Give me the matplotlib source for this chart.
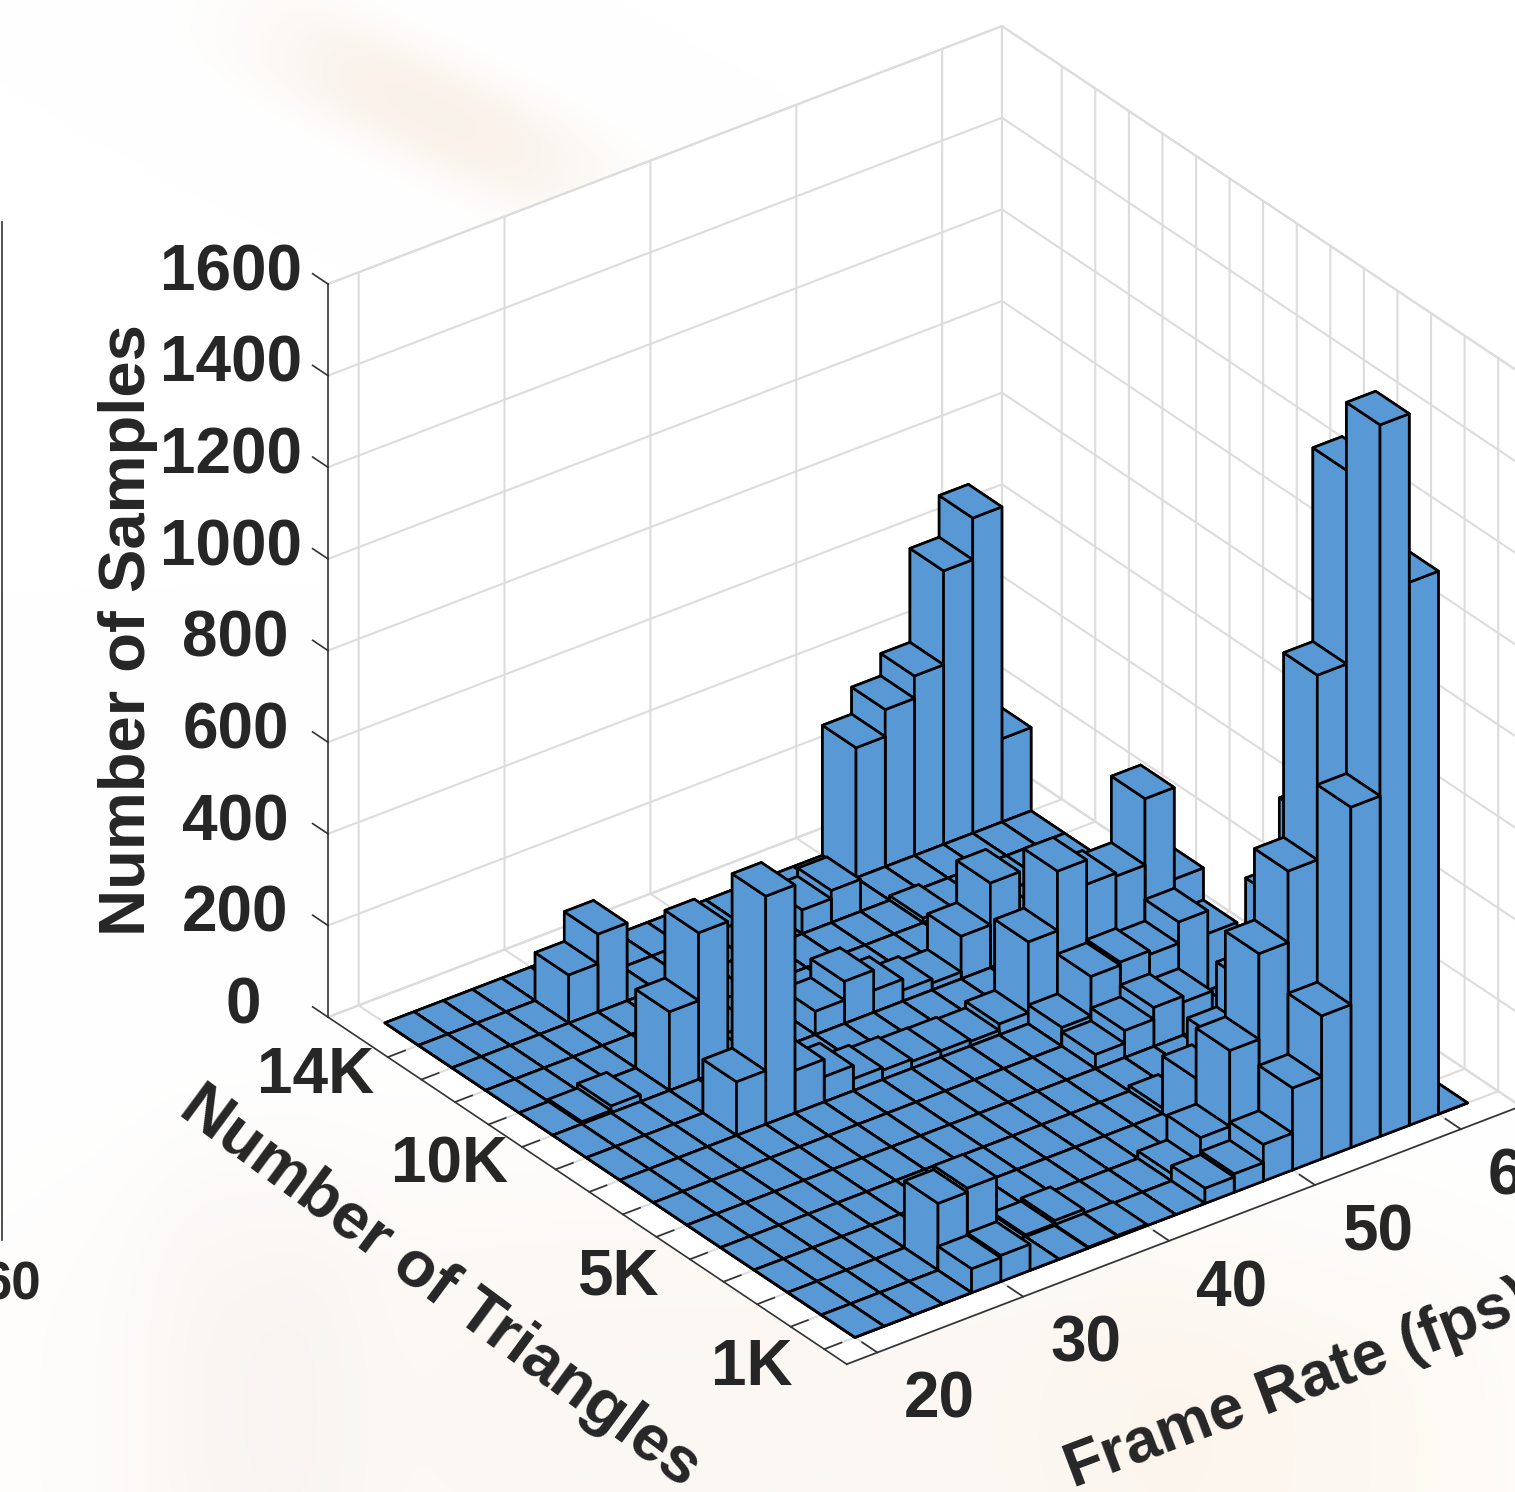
import numpy as np
import matplotlib
matplotlib.use("Agg")
import matplotlib.pyplot as plt
from matplotlib.transforms import ScaledTranslation, IdentityTransform

plt.rcParams['font.family'] = ['Liberation Sans', 'DejaVu Sans']
plt.rcParams['font.weight'] = 'bold'

fps_edges = list(range(20, 62, 2))
tri_edges = list(range(1, 15))

# samples per bin, one list per triangle count (1K .. 14K), frame rate 20 .. 60
row_1k = [0, 0, 0, 0, 52, 57, 0, 0, 2, 3, 0, 0, 33, 40, 80, 179, 312, 743, 1553, 1185, 0]
row_2k = [0, 0, 0, 0, 146, 155, 0, 4, 11, 0, 0, 0, 16, 70, 236, 423, 579, 982, 1405, 0, 0]
row_3k = [0, 0, 0, 0, 0, 0, 0, 0, 0, 0, 0, 0, 0, 0, 126, 0, 0, 0, 592, 0, 0]
row_4k = [0, 0, 0, 0, 0, 0, 0, 0, 0, 0, 0, 0, 0, 0, 12, 0, 111, 209, 368, 0, 0]
row_5k = [0] * 21
row_6k = [0, 0, 0, 0, 0, 0, 0, 0, 0, 0, 0, 0, 0, 0, 31, 59, 85, 72, 0, 0, 0]
row_7k = [0, 0, 0, 0, 0, 0, 0, 0, 0, 0, 0, 0, 0, 0, 41, 128, 135, 127, 174, 124, 0]
row_8k = [0, 0, 0, 0, 117, 498, 93, 55, 26, 20, 15, 14, 10, 24, 179, 309, 256, 249, 394, 194, 0]
row_9k = [0] * 21
row_10k = [0, 5, 15, 0, 172, 320, 0, 0, 0, 51, 92, 48, 24, 15, 93, 185, 0, 0, 0, 0, 0]
row_11k = [0] * 21
row_12k = [0, 0, 0, 0, 0, 0, 0, 0, 0, 0, 0, 0, 0, 0, 0, 10, 0, 0, 0, 0, 0]
row_13k = [0, 0, 0, 0, 105, 170, 0, 0, 0, 0, 0, 0, 52, 70, 0, 0, 0, 0, 0, 0, 0]
row_14k = [0, 0, 0, 0, 0, 0, 0, 0, 0, 0, 0, 0, 0, 0, 0, 284, 343, 392, 597, 688, 182]
rows = [row_1k, row_2k, row_3k, row_4k, row_5k, row_6k, row_7k, row_8k,
        row_9k, row_10k, row_11k, row_12k, row_13k, row_14k]

x_ticks = [20, 30, 40, 50, 60]
y_ticks = list(range(1, 15))
y_labels = ['1K', '', '', '', '5K', '', '', '', '', '10K', '', '', '', '14K']
z_ticks = [0, 200, 400, 600, 800, 1000, 1200, 1400, 1600]

BAR = '#5899D5'
DARK = '#262626'
GRID = '#DCDCDC'
W, H = 1515, 1492

fig = plt.figure(figsize=(W / 100, H / 100), dpi=100)

# faint ghost picture behind the chart
yy, xx = np.mgrid[0:H:4, 0:W:4]
bg = np.ones(xx.shape + (3,))
blobs = [(430, 110, 190, 55, 0.45, (0.02, 0.05, 0.08)),
         (700, 1420, 600, 260, 0.0, (0.012, 0.03, 0.05)),
         (250, 1400, 110, 240, 0.0, (0.015, 0.02, 0.02)),
         (1300, 1450, 250, 200, 0.0, (0.005, 0.02, 0.04))]
for cx, cy, sx, sy, ang, tint in blobs:
    u = (xx - cx) * np.cos(ang) + (yy - cy) * np.sin(ang)
    v = -(xx - cx) * np.sin(ang) + (yy - cy) * np.cos(ang)
    g = np.exp(-(np.abs(u / sx) ** 3 + np.abs(v / sy) ** 3))
    for c in range(3):
        bg[..., c] -= tint[c] * g
ax_bg = fig.add_axes([0, 0, 1, 1], zorder=-1)
ax_bg.imshow(np.clip(bg, 0, 1), extent=(0, W, H, 0), aspect='auto', interpolation='bilinear')
ax_bg.axis('off')

# fragment of the neighbouring panel
fig.add_artist(plt.Line2D([1.5 / W, 1.5 / W], [1 - 1240 / H, 1 - 222 / H], color='#333333', lw=1.2))
fig.text(41 / W, 1 - 1285 / H, '60', fontsize=38, color=DARK, ha='right', va='center')

side = 1432
cx, cy = 905, 714.5
ax = fig.add_axes([(cx - side / 2) / W, 1 - (cy + side / 2) / H, side / W, side / H],
                  projection='3d', computed_zorder=False)
ax.patch.set_alpha(0)
ax.set_proj_type('ortho')
ax.view_init(elev=30.4, azim=232.9)
ax.set_box_aspect((846, 861, 851))

# far bars first so the near ones paint over them
for j in range(len(rows) - 1, -1, -1):
    for i in range(len(fps_edges) - 1, -1, -1):
        ax.bar3d(fps_edges[i], tri_edges[j], 0, 2, 1, rows[j][i], color=BAR,
                 edgecolor='black', linewidth=1.9, shade=False)

ax.set_xlim(17.9, 64.1)
ax.set_ylim(0.33, 15.78)
ax.set_zlim(0, 1600)
ax.set_xticks(x_ticks)
ax.set_yticks(y_ticks)
ax.set_yticklabels(y_labels)
ax.set_zticks(z_ticks)
ax.set_xticklabels([str(v) for v in x_ticks])
ax.set_zticklabels([str(v) for v in z_ticks])

for axis, out, pad in [(ax.xaxis, 0.37, 14), (ax.yaxis, 0.32, 8), (ax.zaxis, 0.37, 8)]:
    axis.set_pane_color((1, 1, 1, 1))
    axis.pane.set_edgecolor(GRID)
    axis.pane.set_linewidth(1.5)
    axis.line.set_color('#333333')
    axis.line.set_linewidth(1.2)
    info = axis._axinfo
    info['grid']['color'] = GRID
    info['grid']['linewidth'] = 1.5
    info['tick']['inward_factor'] = 0
    info['tick']['outward_factor'] = out
    info['tick']['linewidth'] = {True: 1.2, False: 1.2}
    info['tick']['color'] = '#333333'
    axis.set_tick_params(labelsize=46, labelcolor=DARK, pad=pad, color='#333333')
    for t in axis.get_ticklabels():
        t.set_fontweight('bold')

ax.xaxis.set_ticks_position('lower')
ax.yaxis.set_ticks_position('lower')
# z axis on the left edge, ticks running back along y like the reference
ax.zaxis.set_ticks_position('upper')
ax.zaxis._get_tickdir = lambda pos: 1


def nudge_labels(axis, offsets):
    # Axis3D.get_major_ticks resets the transforms on every call, so wrap it
    orig = axis.get_major_ticks

    def patched(numticks=None):
        ticks = orig(numticks)
        for tick, (dx, dy) in zip(ticks, offsets):
            tick.label1.set_transform(ax.transData + ScaledTranslation(dx, dy, IdentityTransform()))
        return ticks
    axis.get_major_ticks = patched


nudge_labels(ax.xaxis, [(41, 26)] * len(x_ticks))
nudge_labels(ax.yaxis, [(-52, 41)] * len(y_ticks))
nudge_labels(ax.zaxis, [({1: -49, 3: -57, 4: -61}[len(str(v))], 38) for v in z_ticks])

fig.text(128 / W, 1 - 630 / H, 'Number of Samples', fontsize=47, color=DARK, rotation=90,
         ha='center', va='center')
fig.text(440 / W, 1 - 1287 / H, 'Number of Triangles', fontsize=47, color=DARK, rotation=-36.5,
         ha='center', va='center', rotation_mode='anchor')
fig.text(1298 / W, 1 - 1385 / H, 'Frame Rate (fps)', fontsize=45, color=DARK, rotation=20.7,
         ha='center', va='center', rotation_mode='anchor')

fig.savefig('out.png', dpi=100)
